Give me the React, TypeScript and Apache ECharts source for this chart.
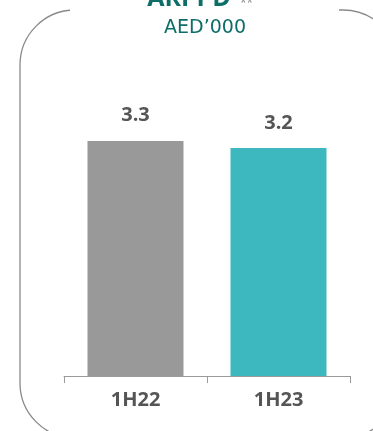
import React, { useEffect, useRef } from "react";
import * as echarts from "echarts";

const categories = ["1H22", "1H23"];
const values = [3.3, 3.2];
const barColors = ["#999999", "#3db8bf"];
const titleText = "ARPPD";
const titleMark = "**";
const subtitleText = "AED\u2019000";

export default function App() {
  const ref = useRef<HTMLDivElement>(null);
  useEffect(() => {
    document.body.style.margin = "0";
    const chart = echarts.init(ref.current!, null, { renderer: "svg" });
    chart.setOption({
      animation: false,
      grid: { left: 64, right: 23, top: 91, bottom: 55 },
      xAxis: {
        type: "category",
        data: categories,
        axisLine: { show: true, lineStyle: { color: "#9a9a9a", width: 1 } },
        axisTick: { show: true, length: 7, lineStyle: { color: "#9a9a9a" } },
        axisLabel: {
          color: "#555555",
          fontFamily: "Open Sans",
          fontWeight: "bold",
          fontSize: 20,
          margin: 12,
        },
      },
      yAxis: {
        type: "value",
        min: 0,
        max: 4,
        show: false,
        splitLine: { show: false },
      },
      series: [
        {
          type: "bar",
          barWidth: 96,
          data: values.map((v, i) => ({ value: v, itemStyle: { color: barColors[i] } })),
          label: {
            show: true,
            position: "top",
            distance: 17,
            color: "#555555",
            fontFamily: "Open Sans",
            fontWeight: "bold",
            fontSize: 20,
            formatter: (p: any) => p.value.toFixed(1),
          },
        },
      ],
      graphic: [
        {
          type: "rect",
          shape: { x: 20, y: 10, width: 378, height: 428, r: 55 },
          style: { fill: "none", stroke: "#8a8a8a", lineWidth: 1.3 },
          silent: true,
        },
        {
          type: "rect",
          shape: { x: 70, y: 4, width: 269, height: 12 },
          style: { fill: "#ffffff" },
          silent: true,
        },
        {
          type: "text",
          x: 189,
          y: -4,
          style: {
            text: titleText,
            fill: "#0d6e68",
            font: "bold 25px 'Open Sans'",
            textAlign: "center",
            textVerticalAlign: "middle",
          },
        },
        {
          type: "text",
          x: 240,
          y: 2,
          style: {
            text: titleMark,
            fill: "#8a8a8a",
            font: "12px 'Open Sans'",
            textAlign: "left",
            textVerticalAlign: "middle",
          },
        },
        {
          type: "text",
          x: 205,
          y: 26,
          style: {
            text: subtitleText,
            fill: "#0d6e68",
            font: "19px 'DejaVu Sans'",
            textAlign: "center",
            textVerticalAlign: "middle",
          },
        },
      ],
    });
    return () => chart.dispose();
  }, []);
  return (
    <div
      ref={ref}
      style={{ position: "fixed", left: 0, top: 0, width: 373, height: 431 }}
    />
  );
}
